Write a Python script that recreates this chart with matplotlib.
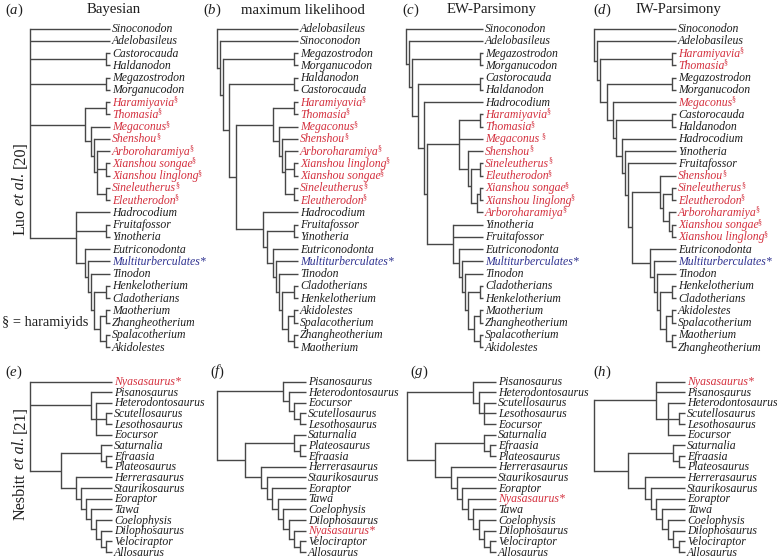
import matplotlib
matplotlib.use("Agg")
import matplotlib.pyplot as plt


def fix(s):
    """Balance parentheses of a Newick-like string (missing closers go at the end)."""
    d = 0
    out = []
    for ch in s:
        if ch == "(":
            d += 1
        elif ch == ")":
            if d == 0:
                continue
            d -= 1
        out.append(ch)
    return "".join(out) + ")" * d


# ---------------- data ----------------
PANEL_LETTERS_TOP = ["a", "b", "c", "d"]
PANEL_TITLES_TOP = ["Bayesian", "maximum likelihood", "EW-Parsimony", "IW-Parsimony"]
PANEL_LETTERS_BOT = ["e", "f", "g", "h"]

HARAMIYIDS = ["Haramiyavia", "Thomasia", "Megaconus", "Shenshou", "Arboroharamiya",
              "Xianshou songae", "Xianshou linglong", "Sineleutherus", "Eleutherodon"]
RED_TAXA = HARAMIYIDS + ["Nyasasaurus*"]
BLUE_TAXA = ["Multiturberculates*"]

HARM_A = fix("((Haramiyavia§,Thomasia§),(Megaconus§,(Shenshou§,(Arboroharamiya§,"
             "(Xianshou songae§,Xianshou linglong§),(Sineleutherus§,Eleutherodon§)"
             "))))")
MAM_A = fix("(Hadrocodium,(Fruitafossor,Yinotheria),(Eutriconodonta,(Multiturberculates*,"
            "(Tinodon,((Henkelotherium,Cladotherians),((Maotherium,Zhangheotherium),"
            "(Spalacotherium,Akidolestes)"
            "))))))")
TREE_A = fix("(Sinoconodon,Adelobasileus,(Castorocauda,Haldanodon),(Megazostrodon,Morganucodon),"
             + HARM_A + "," + MAM_A + ")")

HARM_B = fix("((Haramiyavia§,Thomasia§),(Megaconus§,(Shenshou§,(Arboroharamiya§,"
             "(Xianshou linglong§,Xianshou songae§),(Sineleutherus§,Eleutherodon§)"
             "))))")
MAM_B = fix("(Hadrocodium,((Fruitafossor,Yinotheria),(Eutriconodonta,(Multiturberculates*,"
            "(Tinodon,((Cladotherians,Henkelotherium),((Akidolestes,Spalacotherium),"
            "(Zhangheotherium,Maotherium)"
            "))))))")
TREE_B = fix("(Adelobasileus,(Sinoconodon,((Megazostrodon,Morganucodon),((Haldanodon,Castorocauda),("
             + HARM_B + "," + MAM_B + ")")

HARM_C = fix("((Haramiyavia§,Thomasia§),Megaconus §,(Shenshou§,((Sineleutherus§,Eleutherodon§),"
             "((Xianshou songae§,Xianshou linglong§),Arboroharamiya§")
MAM_C = fix("(Yinotheria,Fruitafossor,(Eutriconodonta,(Multiturberculates*,(Tinodon,"
            "((Cladotherians,Henkelotherium),((Maotherium,Zhangheotherium),"
            "(Spalacotherium,Akidolestes)")
TREE_C = fix("(Sinoconodon,(Adelobasileus,((Megazostrodon,Morganucodon),((Castorocauda,Haldanodon),"
             "(Hadrocodium,(" + HARM_C + "," + MAM_C + ")")

HARM_D = fix("(Shenshou§,((Sineleutherus§,Eleutherodon§),(Arboroharamiya§,"
             "(Xianshou songae§,Xianshou linglong§)")
MAM_D = fix("(Eutriconodonta,(Multiturberculates*,(Tinodon,((Henkelotherium,Cladotherians),"
            "((Akidolestes,Spalacotherium),(Maotherium,Zhangheotherium)")
TREE_D = fix("(Sinoconodon,(Adelobasileus,((Haramiyavia§,Thomasia§),((Megazostrodon,Morganucodon),"
             "(Megaconus§,((Castorocauda,Haldanodon),(Hadrocodium,(Yinotheria,(Fruitafossor,("
             + HARM_D + "," + MAM_D + ")")

THERO_E = fix("(Herrerasaurus,(Staurikosaurus,(Eoraptor,(Tawa,(Coelophysis,(Dilophosaurus,"
              "(Velociraptor,Allosaurus)")
TREE_E = fix("(Nyasasaurus*,(Pisanosaurus,(Heterodontosaurus,(Scutellosaurus,Lesothosaurus),Eocursor)),"
             "((Saturnalia,(Efraasia,Plateosaurus))," + THERO_E + ")")
THERO_F = fix("(Herrerasaurus,(Staurikosaurus,(Eoraptor,(Tawa,(Coelophysis,(Dilophosaurus,"
              "(Nyasasaurus*,(Velociraptor,Allosaurus)")
TREE_F = fix("((Pisanosaurus,(Heterodontosaurus,(Eocursor,(Scutellosaurus,Lesothosaurus)))),"
             "((Saturnalia,(Plateosaurus,Efraasia))," + THERO_F + ")")
THERO_G = fix("(Herrerasaurus,(Staurikosaurus,(Eoraptor,(Nyasasaurus*,(Tawa,(Coelophysis,"
              "(Dilophosaurus,(Velociraptor,Allosaurus)")
TREE_G = fix("((Pisanosaurus,(Heterodontosaurus,(Scutellosaurus,Lesothosaurus,Eocursor))),"
             "((Saturnalia,(Efraasia,Plateosaurus))," + THERO_G + ")")
TREE_H = fix("((Nyasasaurus*,Pisanosaurus,(Heterodontosaurus,(Scutellosaurus,Lesothosaurus),Eocursor)),"
             "((Saturnalia,(Efraasia,Plateosaurus))," + THERO_E + ")")

TOP_TREES = [TREE_A, TREE_B, TREE_C, TREE_D]
BOT_TREES = [TREE_E, TREE_F, TREE_G, TREE_H]

# ---------------- layout / style ----------------
W, H = 777, 558
SERIF = "Liberation Serif"
TXT = "#1e1e1e"
RED = "#d4303e"
BLUE = "#2e3190"
LINE = "#474747"
LW = 1.0
TIP_PT = 8.5
TITLE_PT = 10.6

TOP_LABEL_X = [112, 300, 485, 678]
TOP_ROOT_X = [30, 217, 406, 594]
TOP_Y0, TOP_Y1 = 28.5, 347.0
BOT_LABEL_X = [114, 308, 498, 687]
BOT_ROOT_X = [30, 217, 407, 594]
BOT_Y0, BOT_Y1 = 381.5, 552.0

fig = plt.figure(figsize=(W / 100, H / 100), dpi=100)
ax = fig.add_axes([0, 0, 1, 1])
ax.set_xlim(0, W)
ax.set_ylim(H, 0)
ax.axis("off")
renderer = fig.canvas.get_renderer()


def parse(s):
    pos = 0

    def node():
        nonlocal pos
        if s[pos] == "(":
            pos += 1
            kids = [node()]
            while pos < len(s) and s[pos] == ",":
                pos += 1
                kids.append(node())
            if pos < len(s) and s[pos] == ")":
                pos += 1
            return kids
        start = pos
        while pos < len(s) and s[pos] not in ",()":
            pos += 1
        return s[start:pos].strip()

    return node()


def ntips(n):
    return 1 if isinstance(n, str) else sum(ntips(c) for c in n)


def text_w(t):
    return t.get_window_extent(renderer).width


def taxon_color(name):
    base = name.replace("§", "").strip()
    if name in BLUE_TAXA or base in BLUE_TAXA:
        return BLUE
    if base in RED_TAXA or name in RED_TAXA:
        return RED
    return TXT


def draw_label(name, x, y):
    color = taxon_color(name)
    sup = name.endswith("§")
    base = name[:-1] if sup else name
    gap = 0.0
    if base.endswith(" "):
        gap = TIP_PT * 100 / 72 * 0.25
        base = base.rstrip()
    t = ax.text(x, y + 3.6, base, fontsize=TIP_PT, fontstyle="italic", family=SERIF,
                color=color, ha="left", va="baseline")
    if sup:
        w = text_w(t)
        ax.text(x + w - 1.2 + gap, y - 0.6, "§", fontsize=5.8, family=SERIF,
                color=color, ha="left", va="baseline")


def draw_tree(tree_str, label_x, root_x, y0, y1):
    tree = parse(tree_str)
    N = ntips(tree)
    dy = (y1 - y0) / (N - 1)
    tip_end = label_x - 2.5
    k = (tip_end - root_x) / (N - 1)
    row = [0]

    def rec(n):
        if isinstance(n, str):
            y = y0 + row[0] * dy
            row[0] += 1
            draw_label(n, label_x, y)
            return tip_end, y
        pts = [rec(c) for c in n]
        x = tip_end - k * (ntips(n) - 1)
        ys = [p[1] for p in pts]
        ax.plot([x, x], [min(ys), max(ys)], color=LINE, lw=LW, solid_capstyle="projecting")
        for cx, cy in pts:
            ax.plot([x, cx], [cy, cy], color=LINE, lw=LW, solid_capstyle="butt")
        return x, (ys[0] + ys[-1]) / 2

    rec(tree)


def rich(x, y, segs, size, rotation=0, color=TXT):
    space = size * 100 / 72 * 0.25
    for s, style in segs:
        lead = len(s) - len(s.lstrip(" "))
        trail = len(s) - len(s.rstrip(" "))
        core = s.strip(" ")
        adv = lead * space
        if rotation == 0:
            x += adv
        else:
            y -= adv
        if core:
            t = ax.text(x, y, core, fontsize=size, fontstyle=style, family=SERIF, color=color,
                        ha="left", va="baseline", rotation=rotation, rotation_mode="anchor")
            bb = t.get_window_extent(renderer)
            if rotation == 0:
                x += bb.width
            else:
                y -= bb.height
        if rotation == 0:
            x += trail * space
        else:
            y -= trail * space


def rich_len(segs, size):
    space = size * 100 / 72 * 0.25
    total = 0
    for s, style in segs:
        core = s.strip(" ")
        total += (len(s) - len(core)) * space
        if core:
            t = ax.text(0, 0, core, fontsize=size, fontstyle=style, family=SERIF)
            total += text_w(t)
            t.remove()
    return total


# trees
for tr, lx, rx in zip(TOP_TREES, TOP_LABEL_X, TOP_ROOT_X):
    draw_tree(tr, lx, rx, TOP_Y0, TOP_Y1)
for tr, lx, rx in zip(BOT_TREES, BOT_LABEL_X, BOT_ROOT_X):
    draw_tree(tr, lx, rx, BOT_Y0, BOT_Y1)

# panel letters and titles
TOP_LETTER_X = [5, 203, 402, 593]
TOP_TITLE_X = [87, 241, 447, 635]
for letter, title, lx, tx in zip(PANEL_LETTERS_TOP, PANEL_TITLES_TOP, TOP_LETTER_X, TOP_TITLE_X):
    rich(lx, 13.5, [("(", "normal"), (letter, "italic"), (")", "normal")], TITLE_PT)
    ax.text(tx, 13.5, title, fontsize=TITLE_PT, family=SERIF, color=TXT, ha="left", va="baseline")

BOT_LETTER_X = [5, 210, 410, 593]
for letter, lx in zip(PANEL_LETTERS_BOT, BOT_LETTER_X):
    rich(lx, 375.5, [("(", "normal"), (letter, "italic"), (")", "normal")], TITLE_PT)

# legend note
ax.text(2, 326, "§ = haramiyids", fontsize=10.4, family=SERIF, color=TXT, ha="left", va="baseline")

# rotated source labels
LUO = [("Luo ", "normal"), ("et al.", "italic"), (" [20]", "normal")]
NES = [("Nesbitt ", "normal"), ("et al.", "italic"), (" [21]", "normal")]
SRC_PT = 11.6
for segs, yc in [(LUO, 188), (NES, 463)]:
    L = rich_len(segs, SRC_PT)
    rich(24.5, yc + L / 2, segs, SRC_PT, rotation=90)

fig.savefig("out.png", dpi=100)
